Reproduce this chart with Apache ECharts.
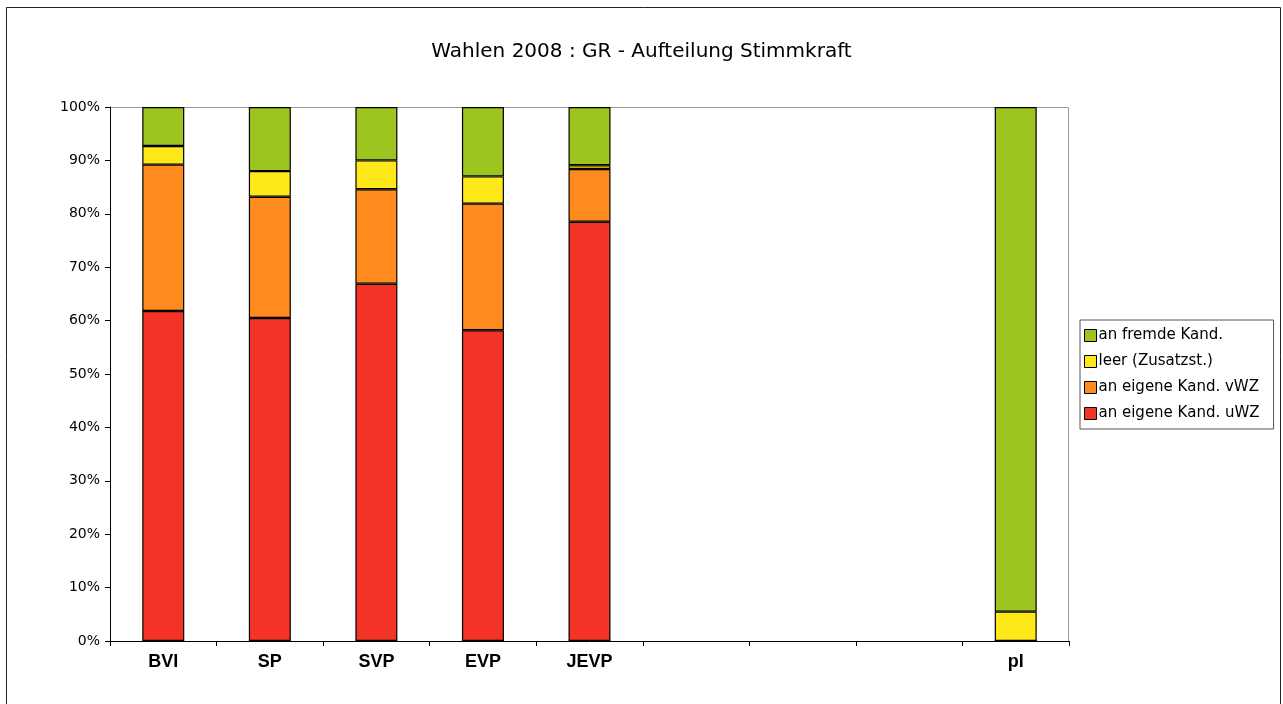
<!DOCTYPE html>
<html>
<head>
<meta charset="utf-8">
<script src="https://cdn.jsdelivr.net/npm/echarts@6/dist/echarts.min.js"></script>
<style>
  html, body { margin: 0; padding: 0; background: #fff; }
  #chart { width: 1283px; height: 704px; }
</style>
</head>
<body>
<div id="chart"></div>
<script>
// categories (three unnamed slots between JEVP and pl)
const categories = ['BVI', 'SP', 'SVP', 'EVP', 'JEVP', '', '', '', 'pl'];

// shares in percent
const eigeneUWZ = [61.8, 60.5, 66.9, 58.2, 78.5, null, null, null, 0];
const eigeneVWZ = [27.4, 22.7, 17.7, 23.7, 9.9, null, null, null, 0];
const leer      = [3.5, 4.8, 5.4, 5.1, 0.7, null, null, null, 5.5];
const fremde    = [7.3, 12.0, 10.0, 13.0, 10.9, null, null, null, 94.5];

const yTicks = [0, 10, 20, 30, 40, 50, 60, 70, 80, 90, 100];

const chart = echarts.init(document.getElementById('chart'));

function barSeries(name, data, color) {
  return {
    name: name,
    type: 'bar',
    stack: 'total',
    barWidth: 42,
    data: data,
    itemStyle: { color: color, borderColor: '#000', borderWidth: 1.2 },
    emphasis: { disabled: true }
  };
}

chart.setOption({
  animation: false,
  title: {
    text: 'Wahlen 2008 : GR - Aufteilung Stimmkraft',
    left: 'center',
    top: 37,
    textStyle: { fontFamily: 'DejaVu Sans', fontSize: 20, fontWeight: 'normal', color: '#000' }
  },
  legend: {
    orient: 'vertical',
    left: 1080,
    top: 320,
    padding: [8, 14, 8, 4],
    itemWidth: 12,
    itemHeight: 12,
    itemGap: 11,
    borderColor: '#555',
    borderWidth: 1,
    icon: 'rect',
    data: ['an fremde Kand.', 'leer (Zusatzst.)', 'an eigene Kand. vWZ', 'an eigene Kand. uWZ'],
    itemStyle: { borderColor: '#000', borderWidth: 1 },
    textStyle: { fontFamily: 'DejaVu Sans', fontSize: 15, color: '#000', padding: [0, 0, 0, -3] }
  },
  grid: { left: 110, right: 214, top: 107, bottom: 63 },
  xAxis: {
    type: 'category',
    data: categories,
    axisLine: { lineStyle: { color: '#000', width: 1 } },
    axisTick: { show: true, length: 5, lineStyle: { color: '#000' } },
    axisLabel: { fontFamily: 'Liberation Sans', fontWeight: 'bold', fontSize: 18, color: '#000', margin: 12 },
    splitLine: { show: false }
  },
  yAxis: {
    type: 'value',
    min: yTicks[0],
    max: yTicks[yTicks.length - 1],
    interval: 10,
    axisLine: { show: true, lineStyle: { color: '#000', width: 1 } },
    axisTick: { show: true, length: 5, lineStyle: { color: '#000' } },
    axisLabel: { formatter: '{value}%', fontFamily: 'DejaVu Sans', fontSize: 14, color: '#000', margin: 10 },
    splitLine: { show: false }
  },
  graphic: [
    { type: 'rect', shape: { x: 6.5, y: 7.5, width: 1274, height: 700 }, style: { fill: null, stroke: '#222', lineWidth: 1 }, silent: true },
    { type: 'polyline', shape: { points: [[110, 107.5], [1068.5, 107.5], [1068.5, 641]] }, style: { fill: null, stroke: '#999', lineWidth: 1 }, silent: true, z: -1 }
  ],
  series: [
    barSeries('an eigene Kand. uWZ', eigeneUWZ, '#F23325'),
    barSeries('an eigene Kand. vWZ', eigeneVWZ, '#FF8A1E'),
    barSeries('leer (Zusatzst.)', leer, '#FFE81A'),
    barSeries('an fremde Kand.', fremde, '#9DC41F')
  ]
});
</script>
</body>
</html>
